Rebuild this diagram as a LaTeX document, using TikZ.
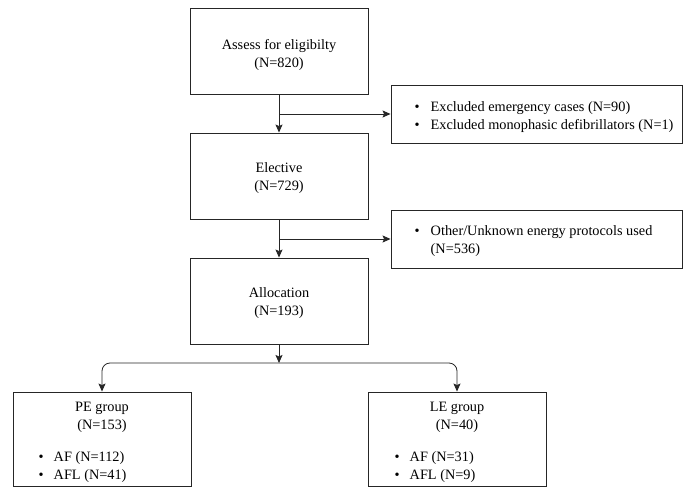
\documentclass[tikz,border=0pt]{standalone}
\usepackage{fontspec}
\setmainfont{Liberation Serif}
\usetikzlibrary{arrows.meta}
\begin{document}
\begin{tikzpicture}[x=1pt,y=-1pt,
  font=\fontsize{14.3}{18}\selectfont,
  box/.style={draw=black!85,line width=0.9pt,inner sep=0pt},
  mainbox/.style={box,minimum width=178pt,minimum height=86pt},
  exbox/.style={box,minimum width=291pt,minimum height=58pt},
  grpbox/.style={box,minimum width=178pt,minimum height=94pt},
  txt/.style={inner sep=0pt,align=center},
  arr/.style={draw=black!85,line width=0.8pt,-{Stealth[length=8pt,width=7pt,inset=1.5pt]}},
  lst/.style={anchor=west,inner sep=0pt,align=left}]
\useasboundingbox (0,0) rectangle (688,487);

\node[mainbox] (a) at (279,51) {};
\node[txt] (at) at (279,55) {Assess for eligibilty\\(N=820)};
\node[mainbox] (b) at (279,176) {};
\node[txt] (bt) at (279,178) {Elective\\(N=729)};
\node[mainbox] (c) at (279,301) {};
\node[txt] (ct) at (279,303) {Allocation\\(N=193)};

\node[exbox] (e1) at (536.5,114) {};
\node[lst] (e1t) at (414.5,117) {\begin{tabular}{@{}l@{\hspace{11pt}}l@{}}\textbullet & Excluded emergency cases (N=90)\\ \textbullet & Excluded monophasic defibrillators (N=1)\end{tabular}};
\node[exbox] (e2) at (536.5,239) {};
\node[lst] (e2t) at (414.5,241) {\begin{tabular}{@{}l@{\hspace{11pt}}l@{}}\textbullet & Other/Unknown energy protocols used\\ & (N=536)\end{tabular}};

\node[grpbox] (pe) at (102,439) {};
\node[txt] (pet) at (102,417) {PE group\\(N=153)};
\node[lst] (pel) at (38.5,467) {\begin{tabular}{@{}l@{\hspace{10pt}}l@{}}\textbullet & AF (N=112)\\ \textbullet & AFL (N=41)\end{tabular}};

\node[grpbox] (le) at (457,439) {};
\node[txt] (let) at (457,417) {LE group\\(N=40)};
\node[lst] (lel) at (394.5,467) {\begin{tabular}{@{}l@{\hspace{10pt}}l@{}}\textbullet & AF (N=31)\\ \textbullet & AFL (N=9)\end{tabular}};

\draw[arr] (a.south) -- (b.north);
\draw[arr] (a.south |- e1.west) -- (e1.west);
\draw[arr] (b.south) -- (c.north);
\draw[arr] (b.south |- e2.west) -- (e2.west);

\coordinate (j) at (279,363);
\draw[arr] (c.south) -- (j);
\draw[arr,rounded corners=8pt] (j) -| (pe.north);
\draw[arr,rounded corners=8pt] (j) -| (le.north);
\end{tikzpicture}
\end{document}
